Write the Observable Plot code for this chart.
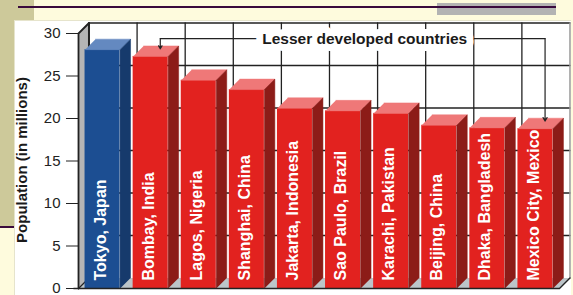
<!DOCTYPE html>
<html>
<head>
<meta charset="utf-8">
<script src="https://cdn.jsdelivr.net/npm/d3@7"></script>
<script src="https://cdn.jsdelivr.net/npm/@observablehq/plot@0.6"></script>
<style>
  html, body { margin: 0; padding: 0; }
  body { width: 573px; height: 295px; overflow: hidden; position: relative; background: #fefbdd; font-family: "Liberation Sans", Arial, sans-serif; }
  .olive { position: absolute; left: 0; top: 0; width: 34px; height: 227px; background: #cdc99a; }
  .pline { position: absolute; height: 2px; background: #3a0a3c; }
  .gbar { position: absolute; left: 437px; top: 3px; width: 119px; height: 12px; background: #b3b3b3; }
  .panel { position: absolute; left: 14px; top: 20px; width: 556px; height: 275px; background: #ffffff; border-top: 1px solid #e6e4cc; border-left: 1px solid #e6e4cc; }
  #chart { position: absolute; left: 0; top: 0; }
  .ytitle { position: absolute; left: -78px; top: 152px; width: 200px; text-align: center; font-weight: bold; font-size: 15px; color: #1a1a1a; transform: rotate(-90deg); transform-origin: 100px 8px; line-height: 16px; }
</style>
</head>
<body>
<div class="olive"></div>
<div class="gbar"></div>
<div class="pline" style="left:18px; top:6px; width:538px;"></div>
<div class="pline" style="left:0px; top:226px; width:20px;"></div>
<div class="panel"></div>
<div id="chart"></div>
<div class="ytitle">Population (in millions)</div>
<script>
const cities = ["Tokyo, Japan", "Bombay, India", "Lagos, Nigeria", "Shanghai, China", "Jakarta, Indonesia",
  "Sao Paulo, Brazil", "Karachi, Pakistan", "Beijing, China", "Dhaka, Bangladesh", "Mexico City, Mexico"];
const population = [28.1, 27.3, 24.5, 23.4, 21.2, 20.9, 20.6, 19.2, 18.9, 18.8];
const group = ["developed", "lesser", "lesser", "lesser", "lesser", "lesser", "lesser", "lesser", "lesser", "lesser"];
const yTicks = [0, 5, 10, 15, 20, 25, 30];
const groupLabel = "Lesser developed countries";
const yTitle = "Population (in millions)";

// styling / geometry constants
const W = 0.364, DX = 0.218, DY = 1.235;
const palette = {
  developed: {front: "#1c4e92", top: "#6489c0", side: "#163a6c"},
  lesser: {front: "#e2221f", top: "#ef7878", side: "#8c1c18"}
};
const idx = cities.map((_, i) => i);
const n = cities.length;
const yMax = yTicks[yTicks.length - 1];

const tops = [], sides = [];
idx.forEach(i => {
  const v = population[i], c = palette[group[i]];
  [[i - W, v], [i + W, v], [i + W + DX, v + DY], [i - W + DX, v + DY]].forEach(([x, y]) => tops.push({x, y, z: i, c: c.top}));
  [[i + W, 0], [i + W, v], [i + W + DX, v + DY], [i + W + DX, DY]].forEach(([x, y]) => sides.push({x, y, z: i, c: c.side}));
});
const x0 = -0.5, x1 = n - 0.5;
const floor = [{x: x0, y: 0}, {x: x1, y: 0}, {x: x1 + DX, y: DY}, {x: x0 + DX, y: DY}];
const leftWall = [{x: x0, y: 0}, {x: x0, y: yMax}, {x: x0 + DX, y: yMax + DY}, {x: x0 + DX, y: DY}];
const hGrid = yTicks.filter(t => t > 0).flatMap(t => [{x: x0 + DX, y: t + DY, z: t}, {x: x1 + DX, y: t + DY, z: t}]);
const vGrid = idx.slice(0, n - 1).flatMap(i => [{x: i + 0.5 + DX, y: DY, z: i}, {x: i + 0.5 + DX, y: yMax + DY, z: i}]);

// bracket annotation
const lesserIdx = idx.filter(i => group[i] === "lesser");
const first = lesserIdx[0], last = lesserIdx[lesserIdx.length - 1];
const bY = 29.4, aOff = 0.2;
const bracket = [{x: first + aOff, y: bY}, {x: last + aOff, y: bY}];
const arrows = [first, last].map(i => ({x1: i + aOff, y1: bY, x2: i + aOff, y2: population[i] + 0.9}));

const ink = "#222222";
const chart = Plot.plot({
  width: 573, height: 295,
  marginLeft: 78, marginRight: 14, marginTop: 33, marginBottom: 7,
  style: {background: "transparent", fontFamily: "Liberation Sans, Arial, sans-serif", fontSize: "15px", color: "#222", overflow: "visible"},
  x: {type: "linear", domain: [x0, x1], axis: null},
  y: {domain: [0, yMax], ticks: yTicks, tickSize: 12, tickPadding: 6, label: null},
  color: {type: "identity"},
  marks: [
    Plot.line(floor, {x: "x", y: "y", fill: "#bcc5c9", stroke: "none"}),
    Plot.line(leftWall, {x: "x", y: "y", fill: "#b5b5b5", stroke: "none"}),
    Plot.line(hGrid, {x: "x", y: "y", z: "z", stroke: ink, strokeWidth: 1.3}),
    Plot.line(vGrid, {x: "x", y: "y", z: "z", stroke: ink, strokeWidth: 1.3}),
    Plot.line([{x: x0 + DX, y: DY}, {x: x0 + DX, y: yMax + DY}], {x: "x", y: "y", stroke: ink, strokeWidth: 2}),
    Plot.line([{x: x1 + DX, y: DY}, {x: x1 + DX, y: yMax + DY}], {x: "x", y: "y", stroke: "#9a9a9a", strokeWidth: 1.5}),
    Plot.line([{x: x0, y: 0}, {x: x0, y: yMax}, {x: x0 + DX, y: yMax + DY}], {x: "x", y: "y", stroke: ink, strokeWidth: 1.8}),
    Plot.line([{x: x0, y: 0}, {x: x0 + DX, y: DY}], {x: "x", y: "y", stroke: ink, strokeWidth: 1.2}),
    Plot.rect(idx, {x1: i => i - W, x2: i => i + W, y1: 0, y2: i => population[i], fill: i => palette[group[i]].front}),
    Plot.line(tops, {x: "x", y: "y", z: "z", fill: "c", stroke: "c", strokeWidth: 0.5}),
    Plot.line(sides, {x: "x", y: "y", z: "z", fill: "c", stroke: "c", strokeWidth: 0.5}),
    Plot.line([{x: x0 - 0.1, y: 0}, {x: x1, y: 0}, {x: x1 + DX, y: DY}], {x: "x", y: "y", stroke: ink, strokeWidth: 1.4}),
    Plot.text(idx, {x: i => i, y: 0, text: i => cities[i], rotate: -90, textAnchor: "start", lineAnchor: "middle",
      dy: -8, dx: -2, fill: "white", fontWeight: "bold", fontSize: 16}),
    Plot.line(bracket, {x: "x", y: "y", stroke: ink, strokeWidth: 1.2}),
    Plot.arrow(arrows, {x1: "x1", y1: "y1", x2: "x2", y2: "y2", stroke: ink, strokeWidth: 1.2, headLength: 5}),
    Plot.text([groupLabel], {x: 5.45, y: bY, text: d => d, fontWeight: "bold", fontSize: 15.5, fill: "#1a1a1a",
      stroke: "white", strokeWidth: 14})
  ]
});
document.getElementById("chart").appendChild(chart);
</script>
</body>
</html>
